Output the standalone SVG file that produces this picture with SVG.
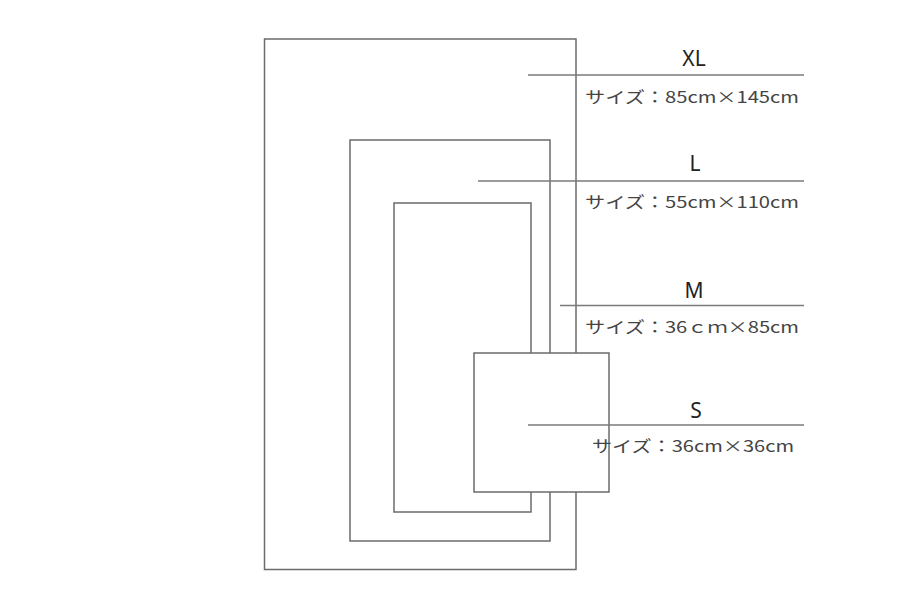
<svg xmlns="http://www.w3.org/2000/svg" width="900" height="601" viewBox="0 0 900 601">
<style>
.r{fill:none;stroke:#6b6b6b;stroke-width:1.5}
.s{fill:#fff;stroke:#6b6b6b;stroke-width:1.5}
.l{stroke:#7a7a7a;stroke-width:1.5}
.t{font-family:"Noto Sans CJK JP","Noto Sans",sans-serif;fill:#333;text-anchor:middle}
.h{font-size:21px;font-family:"Noto Sans",sans-serif;fill:#222}
.d{font-size:16px;fill:#444}
</style>
<rect width="900" height="601" fill="#fff"/>
<g id="xl-rect"><rect class="r" x="264.5" y="39" width="311.5" height="530.5"/></g>
<g id="l-rect"><rect class="r" x="350" y="140" width="200" height="401"/></g>
<g id="m-rect"><rect class="r" x="394" y="203" width="137" height="309"/></g>
<g id="s-rect"><rect class="s" x="474" y="353" width="135" height="139"/></g>
<g id="connectors">
<line class="l" x1="528" y1="75" x2="804" y2="75"/>
<line class="l" x1="478" y1="181" x2="804" y2="181"/>
<line class="l" x1="560" y1="305.5" x2="804" y2="305.5"/>
<line class="l" x1="528" y1="425" x2="804" y2="425"/>
</g>
<g id="xl-label"><text class="t h" x="694" y="66">XL</text><text class="t d" x="692" y="103" textLength="214" lengthAdjust="spacingAndGlyphs">サイズ：85cm×145cm</text></g>
<g id="l-label"><text class="t h" x="695" y="171">L</text><text class="t d" x="692" y="208" textLength="214" lengthAdjust="spacingAndGlyphs">サイズ：55cm×110cm</text></g>
<g id="m-label"><text class="t h" x="694" y="298">M</text><text class="t d" x="692" y="333" textLength="214" lengthAdjust="spacingAndGlyphs">サイズ：36ｃｍ×85cm</text></g>
<g id="s-label"><text class="t h" x="696" y="418">S</text><text class="t d" x="693" y="452" textLength="202" lengthAdjust="spacingAndGlyphs">サイズ：36cm×36cm</text></g>
</svg>
